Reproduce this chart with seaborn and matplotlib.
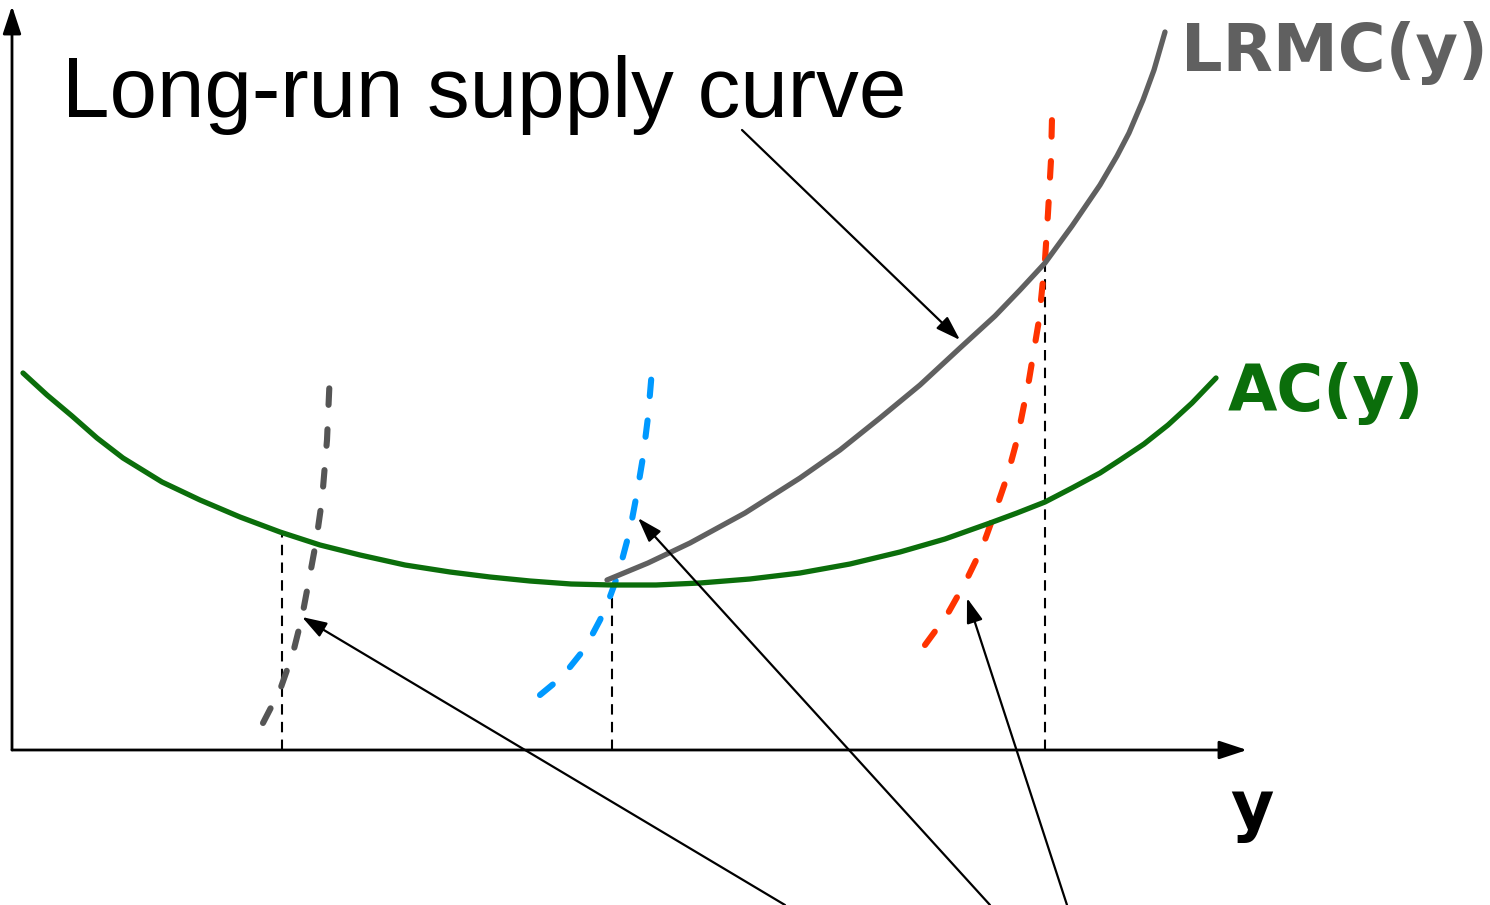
import numpy as np
import pandas as pd
import matplotlib
matplotlib.use("Agg")
import matplotlib.pyplot as plt
import seaborn as sns

# Curvas (q = cantidad, c = costo; origen en los ejes)
ac_q = [11, 35, 60, 85, 111, 150, 188, 228, 268, 308, 348, 393, 438, 478, 518, 559, 600,
        644, 688, 738, 788, 838, 888, 933, 978, 1005, 1033, 1060, 1088, 1108, 1132, 1156, 1180, 1204]
ac_c = [377, 355, 334, 312, 292, 268, 250, 233, 218, 205, 195, 185, 178, 173, 169, 166, 165,
        165, 167, 171, 177, 186, 198, 211, 227, 237, 248, 262, 277, 290, 306, 325, 347, 372]

lrmc_q = [595, 636, 678, 733, 788, 828, 868, 908, 948, 983, 1008, 1033, 1060, 1088, 1105, 1117, 1131, 1142, 1153]
lrmc_c = [170, 187, 207, 237, 272, 300, 332, 365, 402, 434, 460, 487, 524, 565, 594, 617, 650, 680, 718]

# costos marginales de corto plazo (tres plantas)
smc1_q = [251, 268, 281, 290, 297, 304, 310, 315, 318]
smc1_c = [27, 60, 97, 133, 170, 208, 250, 310, 378]
smc2_q = [528, 545, 558, 570, 579, 588, 596, 603, 610, 618, 625, 631, 636, 640]
smc2_c = [55, 69, 83, 98, 113, 130, 148, 167, 190, 220, 257, 293, 333, 380]
smc3_q = [913, 935, 953, 970, 983, 995, 1005, 1017, 1027, 1033, 1036, 1039, 1040]
smc3_c = [105, 135, 167, 202, 238, 273, 310, 370, 430, 490, 537, 590, 632]

# líneas verticales punteadas
drop_q = [270, 600, 1033]
drop_c = [218, 165, 487]

# flechas: (origen, destino)
flechas = [
    ((773, -155), (290, 133)),
    ((978, -155), (626, 232)),
    ((1055, -155), (955, 152)),
]
flecha_lrmc = ((730, 620), (948, 410))

verde = "#0b6e0b"
gris = "#606060"

sns.set_theme(style="white")
plt.rcParams["font.family"] = ["Liberation Sans", "DejaVu Sans"]

fig = plt.figure(figsize=(14.9, 9.05), dpi=100)
ax = fig.add_axes([0, 0, 1, 1])
ax.set_xlim(-12, 1478)
ax.set_ylim(-155, 750)
ax.axis("off")

# ejes con flecha
estilo_eje = "-|>,head_length=0.85,head_width=0.28"
ax.annotate("", xy=(1235, 0), xytext=(0, 0),
            arrowprops=dict(arrowstyle=estilo_eje, mutation_scale=20, lw=2,
                            color="black", shrinkA=0, shrinkB=0))
ax.annotate("", xy=(0, 744), xytext=(0, 0),
            arrowprops=dict(arrowstyle=estilo_eje, mutation_scale=20, lw=2,
                            color="black", shrinkA=0, shrinkB=0))

# verticales
for q, c in zip(drop_q, drop_c):
    ax.plot([q, q], [0, c], color="black", lw=1.5, linestyle=(0, (5, 3.5)))

# curvas de corto plazo
punteada = (0, (2.7, 4.0))
for xs, ys, col in [(smc1_q, smc1_c, "#555555"), (smc2_q, smc2_c, "#0099ff"), (smc3_q, smc3_c, "#ff3300")]:
    sns.lineplot(x=xs, y=ys, ax=ax, color=col, lw=4.4, linestyle=punteada,
                 dash_capstyle="round", sort=False, estimator=None)

sns.lineplot(x=ac_q, y=ac_c, ax=ax, color=verde, lw=3.8, solid_capstyle="round",
             solid_joinstyle="round", sort=False, estimator=None)
sns.lineplot(x=lrmc_q, y=lrmc_c, ax=ax, color=gris, lw=3.8, solid_capstyle="round",
             solid_joinstyle="round", sort=False, estimator=None)

# flechas de anotación
for (x0, y0), (x1, y1) in flechas + [flecha_lrmc]:
    ax.annotate("", xy=(x1, y1), xytext=(x0, y0),
                arrowprops=dict(arrowstyle="-|>,head_length=1.0,head_width=0.33",
                                mutation_scale=15, lw=1.6, color="black",
                                shrinkA=0, shrinkB=0))

# textos
ax.text(50, 633, "Long-run supply curve", fontsize=61.5, color="black",
        ha="left", va="baseline", family=["Liberation Sans", "DejaVu Sans"])
ax.text(1169, 679, "LRMC(y)", fontsize=47, color=gris, fontweight="bold",
        ha="left", va="baseline", family=["DejaVu Sans"])
ax.text(1216, 339, "AC(y)", fontsize=46, color=verde, fontweight="bold",
        ha="left", va="baseline", family=["DejaVu Sans"])
ax.text(1240, -78, "y", fontsize=48, color="black", fontweight="bold",
        ha="center", va="baseline", family=["DejaVu Sans"])

fig.savefig("out.png", dpi=100, facecolor="white")
